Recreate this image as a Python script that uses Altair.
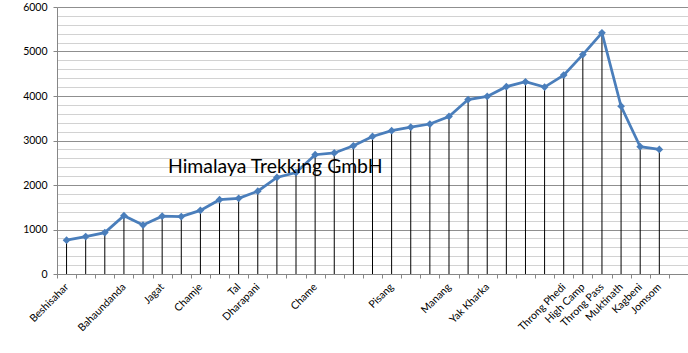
import json

import altair as alt
import pandas as pd

# Stop index along the Annapurna circuit and its elevation in metres
stops = list(range(32))
elevation = [760, 840, 930, 1310, 1100, 1300, 1290, 1430, 1670, 1700,
             1860, 2170, 2280, 2680, 2720, 2880, 3090, 3220, 3300, 3370,
             3540, 3920, 3990, 4210, 4320, 4200, 4470, 4930, 5420, 3770,
             2860, 2800]

# Category labels (empty where the stop is unnamed on the axis)
tick_labels = ["Beshisahar", "", "", "Bahaundanda", "", "Jagat", "", "Chamje", "", "Tal",
               "Dharapani", "", "", "Chame", "", "", "", "Pisang", "", "",
               "Manang", "", "Yak Kharka", "", "", "", "Throng Phedi", "High Camp",
               "Throng Pass", "Muktinath", "Kagbeni", "Jomsom", ""]

y_ticks = list(range(0, 6001, 200))
annotation = ["Himalaya Trekking GmbH"]

df = pd.DataFrame({"stop": stops, "elevation": elevation})

FONT = "Lato"
LINE_BLUE = "#4A7EBB"
AXIS_GRAY = "#868686"

label_expr = "[" + ",".join(json.dumps(s) for s in tick_labels) + "][datum.value]"

x_enc = alt.X(
    "stop:O",
    scale=alt.Scale(type="band", domain=list(range(len(tick_labels))),
                    paddingInner=0, paddingOuter=0),
    axis=alt.Axis(
        title=None, grid=False, tickBand="extent", labelExpr=label_expr,
        labelAngle=-45, labelAlign="right", labelBaseline="middle",
        labelFont=FONT, labelFontSize=10.5, labelColor="#000000",
        labelPadding=7, labelOverlap=False,
        domainColor=AXIS_GRAY, tickColor=AXIS_GRAY, tickSize=4,
    ),
)

y_enc = alt.Y(
    "elevation:Q",
    scale=alt.Scale(domain=[0, 6000], nice=False),
    axis=alt.Axis(
        title=None, values=y_ticks, format="d",
        labelExpr="datum.value % 1000 === 0 ? datum.label : ''",
        labelFont=FONT, labelFontSize=10.5, labelColor="#000000",
        labelPadding=6, labelOverlap=False,
        gridColor={"condition": {"test": "datum.value % 1000 === 0", "value": "#8f8f8f"},
                   "value": "#d2d2d2"},
        tickOpacity={"condition": {"test": "datum.value % 1000 === 0", "value": 1},
                     "value": 0},
        domainColor=AXIS_GRAY, tickColor=AXIS_GRAY, tickSize=4,
    ),
)

base = alt.Chart(df).encode(x=x_enc, y=y_enc)

drop_lines = base.mark_rule(color="#000000", strokeWidth=1).encode(y2=alt.datum(0))
profile = base.mark_line(color=LINE_BLUE, strokeWidth=2.75)
markers = base.mark_point(shape="diamond", filled=True, size=60,
                          color=LINE_BLUE, opacity=1)

label = alt.Chart(pd.DataFrame({"t": annotation})).mark_text(
    align="left", baseline="alphabetic", font=FONT, fontSize=19.4, color="#000000"
).encode(text="t:N", x=alt.value(111), y=alt.value(166))

chart = alt.layer(drop_lines, profile, markers, label).properties(
    width=631, height=267,
    autosize=alt.AutoSizeParams(type="none"),
    padding={"left": 57, "top": 7, "right": 0, "bottom": 79},
).configure_view(stroke=None)

chart.save("out.html", embed_options={"renderer": "svg", "actions": False})
